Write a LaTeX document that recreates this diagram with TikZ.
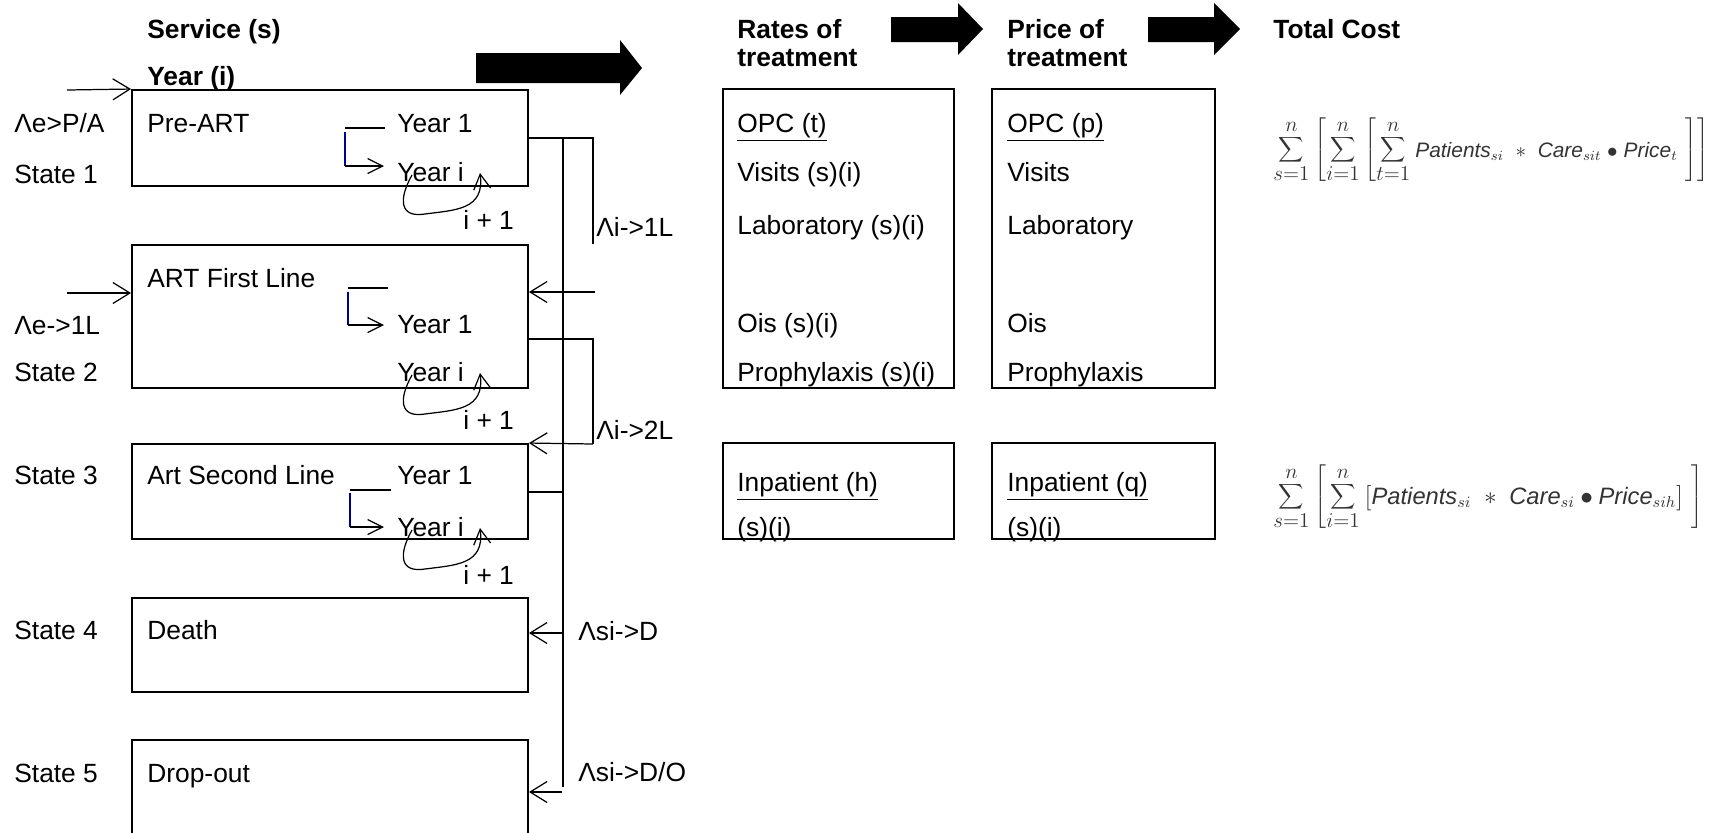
\documentclass[tikz,border=0pt]{standalone}
\usepackage{fontspec}
\setmainfont{Liberation Sans}
\usepackage{tikz}
\usetikzlibrary{positioning, arrows.meta, fit}
\usepackage{xcolor}

\begin{document}
\begin{tikzpicture}[x=0.2mm, y=-0.2mm,
  every node/.style={font=\fontsize{15}{18}\selectfont, inner sep=0pt},
  txt/.style={anchor=base west},
  head/.style={anchor=base west, font=\fontsize{15}{18}\selectfont\bfseries},
  formula/.style={anchor=west, font=\fontsize{17}{20}\selectfont, text=black!80},
  box/.style={draw, line width=1.1pt},
  wire/.style={line width=0.9pt},
  link/.style={line width=0.7pt, -{Straight Barb[length=3.4mm, width=4.2mm]}},
  yrlink/.style={line width=0.7pt, -{Straight Barb[length=3mm, width=3mm]}, shorten >=2.6mm},
  bar/.style={line width=1.4pt},
  navy/.style={draw=blue!55!black, line width=0.6pt},
  loopy/.style={line width=0.7pt, -{Straight Barb[length=3mm, width=3.4mm]}}]
  \useasboundingbox (0,0) rectangle (1731,832);

  % headings
  \node[head] (service) at (147,38) {Service (s)};
  \node[head] (year) at (147,85) {Year (i)};
  \node[head] (ratesof) at (737,38) {Rates of};
  \node[head] (ratestreat) at (737,66) {treatment};
  \node[head] (priceof) at (1007,38) {Price of};
  \node[head] (pricetreat) at (1007,66) {treatment};
  \node[head] (totalcost) at (1273,38) {Total Cost};

  \fill (476,53) -- (620,53) -- (620,40) -- (642,68) -- (620,95) -- (620,83) -- (476,83) -- cycle;
  \fill (891,17) -- (958,17) -- (958,3) -- (983,29) -- (958,55) -- (958,42) -- (891,42) -- cycle;
  \fill (1148,17) -- (1214,17) -- (1214,3) -- (1240,29) -- (1214,55) -- (1214,42) -- (1148,42) -- cycle;

  % states
  \node[box, fit={(132,90) (528,186)}] (preart) {};
  \node[box, fit={(132,245) (528,388)}] (firstline) {};
  \node[box, fit={(132,444) (528,539)}] (secondline) {};
  \node[box, fit={(132,598) (528,692)}] (death) {};
  \node[box, fit={(132,740) (528,860)}] (dropout) {};

  \node[txt] (lame1) at (14,132) {Λe>P/A};
  \node[txt] (state1) at (14,183) {State 1};
  \node[txt] (lame2) at (14,334) {Λe->1L};
  \node[txt] (state2) at (14,381) {State 2};
  \node[txt] (state3) at (14,484) {State 3};
  \node[txt] (state4) at (14,639) {State 4};
  \node[txt] (state5) at (14,782) {State 5};

  \node[txt] (preartlbl) at (147,132) {Pre-ART};
  \node[txt] (yearone1) at (397,132) {Year 1};
  \node[txt] (yeari1) at (397,181) {Year i};
  \node[txt] (firstlbl) at (147,287) {ART First Line};
  \node[txt] (yearone2) at (397,333) {Year 1};
  \node[txt] (yeari2) at (397,381) {Year i};
  \node[txt] (secondlbl) at (147,484) {Art Second Line};
  \node[txt] (yearone3) at (397,484) {Year 1};
  \node[txt] (yeari3) at (397,536) {Year i};
  \node[txt] (deathlbl) at (147,639) {Death};
  \node[txt] (droplbl) at (147,782) {Drop-out};

  % entries from outside
  \coordinate (in1) at (67,90);
  \coordinate (in2) at (67,293);
  \draw[link] (in1) -- (preart.north west);
  \draw[link] (in2) -- (in2 -| firstline.west);

  % year 1 -> year i
  \coordinate (bar1) at (345,128);
  \coordinate (bend1) at (345,166);
  \coordinate (bar2) at (348,288);
  \coordinate (bend2) at (348,325);
  \coordinate (bar3) at (350,490);
  \coordinate (bend3) at (350,527);
  \draw[bar] (bar1) -- ++(40,0);
  \draw[bar] (bar2) -- ++(40,0);
  \draw[bar] (bar3) -- ++(41,0);
  \draw[navy] ([yshift=-0.8mm]bar1) -- (bend1);
  \draw[navy] ([yshift=-0.8mm]bar2) -- (bend2);
  \draw[navy] ([yshift=-0.6mm]bar3) -- (bend3);
  \draw[yrlink] (bend1) -- (bend1 -| yeari1.west);
  \draw[yrlink] (bend2) -- (bend2 -| yearone2.west);
  \draw[yrlink] (bend3) -- (bend3 -| yeari3.west);

  \foreach \n in {1,2,3} {
    \draw[loopy] ([shift={(15,-6)}]yeari\n.base west)
      .. controls ([shift={(1,19)}]yeari\n.base west) and ([shift={(3,37)}]yeari\n.base west) .. ([shift={(28,33)}]yeari\n.base west)
      .. controls ([shift={(58,29)}]yeari\n.base west) and ([shift={(88,29)}]yeari\n.base west) .. ([shift={(83,-8)}]yeari\n.base west);
    \node[txt] (iplus\n) at ([shift={(66,48)}]yeari\n.base west) {i + 1};
  }

  % transitions between states
  \coordinate (trunktop) at (563,138);
  \coordinate (trunkbot) at (563,787);
  \coordinate (up1) at (593,138);
  \coordinate (down1) at (593,244);
  \coordinate (back1) at (595,292);
  \coordinate (up2) at (593,339);
  \coordinate (down2) at (593,444);
  \coordinate (join3) at (563,492);
  \coordinate (todeath) at (563,633);
  \coordinate (todrop) at (562,792);

  \draw[wire] (trunktop) -- (trunkbot);
  \draw[wire] (up1 -| preart.east) -- (up1) -- (down1);
  \draw[link] (back1) -- (back1 -| firstline.east);
  \draw[wire] (up2 -| firstline.east) -- (up2) -- (down2);
  \draw[link] (down2) -- (secondline.north east);
  \draw[wire] (join3 -| secondline.east) -- (join3);
  \draw[link] (todeath) -- (todeath -| death.east);
  \draw[link] (todrop) -- (todrop -| dropout.east);

  \node[txt] (lami1) at (596,236) {Λi->1L};
  \node[txt] (lami2) at (596,439) {Λi->2L};
  \node[txt] (lamd) at (578,640) {Λsi->D};
  \node[txt] (lamdo) at (578,781) {Λsi->D/O};

  % rates and prices
  \node[box, fit={(723,89) (954,388)}] (rates) {};
  \node[box, fit={(992,89) (1215,388)}] (price) {};
  \node[box, fit={(723,443) (954,539)}] (ratesin) {};
  \node[box, fit={(992,443) (1215,539)}] (pricein) {};

  \node[txt] (opct) at (737,132) {\underline{OPC (t)}};
  \node[txt] (visitsr) at (737,181) {Visits (s)(i)};
  \node[txt] (labr) at (737,234) {Laboratory (s)(i)};
  \node[txt] (oisr) at (737,332) {Ois (s)(i)};
  \node[txt] (prophr) at (737,381) {Prophylaxis (s)(i)};
  \node[txt] (opcp) at (1007,132) {\underline{OPC (p)}};
  \node[txt] (visitsp) at (1007,181) {Visits};
  \node[txt] (labp) at (1007,234) {Laboratory};
  \node[txt] (oisp) at (1007,332) {Ois};
  \node[txt] (prophp) at (1007,381) {Prophylaxis};
  \node[txt] (inh) at (737,491) {\underline{Inpatient (h)}};
  \node[txt] (insih) at (737,536) {(s)(i)};
  \node[txt] (inq) at (1007,491) {\underline{Inpatient (q)}};
  \node[txt] (insiq) at (1007,536) {(s)(i)};

  % total cost
  \node[formula] (costopc) at (1273,150)
    {$\displaystyle\sum_{s=1}^{n}\left[\sum_{i=1}^{n}\left[\sum_{t=1}^{n}{\scriptstyle\mathit{Patients}_{si}\;\;*\;\;\mathit{Care}_{sit}\;\bullet\;\mathit{Price}_{t}}\;\right]\right]$};
  \node[formula] (costin) at (1273,497)
    {$\displaystyle\sum_{s=1}^{n}\left[\sum_{i=1}^{n}\hbox{\fontsize{13.5}{16}\selectfont$[\mathit{Patients}_{si}\;*\;\mathit{Care}_{si}\bullet\mathit{Price}_{sih}]$}\;\right]$};
\end{tikzpicture}
\end{document}
